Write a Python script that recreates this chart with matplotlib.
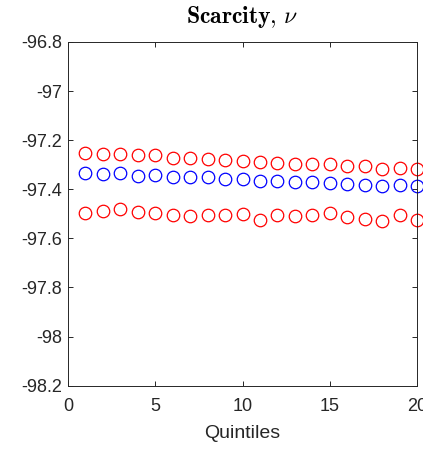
import numpy as np
import matplotlib.pyplot as plt

plt.rcParams['font.family'] = ['Liberation Sans', 'DejaVu Sans']
plt.rcParams['mathtext.fontset'] = 'cm'

quintiles = np.arange(1, 21)

# upper band, point estimate, lower band
upper = [-97.252, -97.257, -97.256, -97.260, -97.260, -97.271, -97.271, -97.275, -97.280, -97.284,
         -97.287, -97.293, -97.295, -97.295, -97.297, -97.305, -97.306, -97.316, -97.314, -97.317]
middle = [-97.333, -97.336, -97.335, -97.344, -97.343, -97.350, -97.350, -97.351, -97.359, -97.360,
          -97.367, -97.367, -97.369, -97.371, -97.374, -97.380, -97.382, -97.388, -97.384, -97.388]
lower = [-97.497, -97.489, -97.482, -97.494, -97.497, -97.503, -97.507, -97.505, -97.503, -97.499,
         -97.524, -97.506, -97.510, -97.505, -97.497, -97.514, -97.521, -97.528, -97.506, -97.524]

yticks = [-98.2, -98, -97.8, -97.6, -97.4, -97.2, -97, -96.8]
ytick_labels = ['-98.2', '-98', '-97.8', '-97.6', '-97.4', '-97.2', '-97', '-96.8']
xticks = [0, 5, 10, 15, 20]

fig = plt.figure(figsize=(4.23, 4.5), dpi=100)
ax = fig.add_axes([0.1608, 0.1429, 0.825, 0.7638])

mk = dict(linestyle='none', marker='o', markersize=9, markerfacecolor='none',
          markeredgewidth=0.9, clip_on=False)
ax.plot(quintiles, upper, markeredgecolor='#ff0000', **mk)
ax.plot(quintiles, middle, markeredgecolor='#0000ff', **mk)
ax.plot(quintiles, lower, markeredgecolor='#ff0000', **mk)

ax.set_xlim(0, 20)
ax.set_ylim(-98.2, -96.8)
ax.set_xticks(xticks)
ax.set_yticks(yticks)
ax.set_yticklabels(ytick_labels)

axcol = '#262626'
for s in ax.spines.values():
    s.set_color(axcol)
    s.set_linewidth(0.7)
ax.tick_params(direction='in', length=3.5, width=0.7, colors=axcol,
               top=True, right=True, labelsize=13)
ax.tick_params(axis='x', pad=8.5)
ax.tick_params(axis='y', pad=4.5)
for lbl in ax.get_xticklabels() + ax.get_yticklabels():
    lbl.set_color(axcol)

ax.set_xlabel('Quintiles', fontsize=14, color=axcol, labelpad=7.5)
ax.set_title(r'$\mathbf{Scarcity},\,\nu$', fontsize=17, color='black', pad=14)

fig.savefig('out.png', dpi=100)
